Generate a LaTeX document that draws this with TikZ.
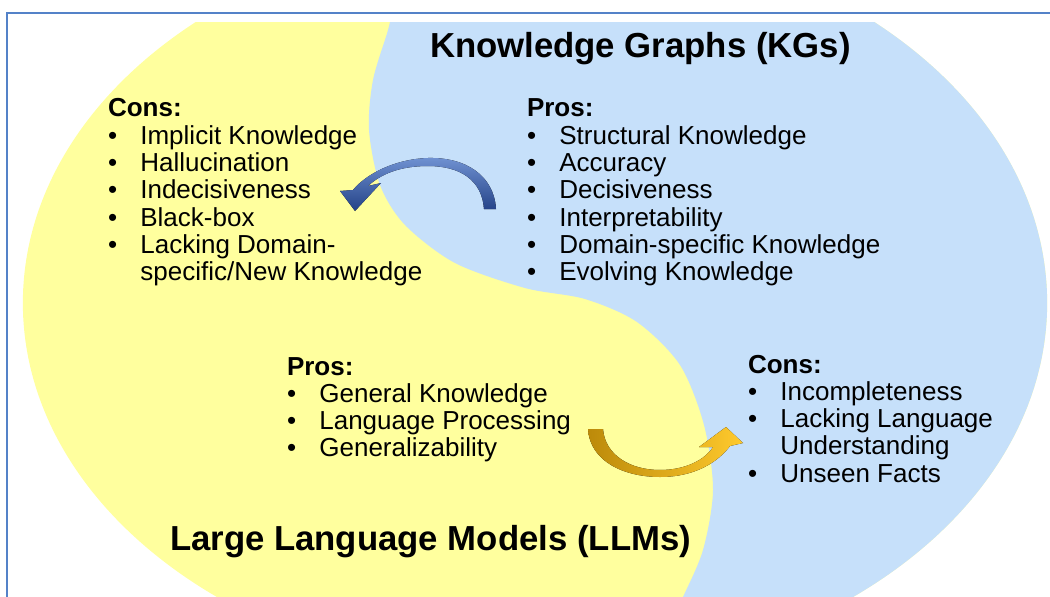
\documentclass[tikz,border=0pt]{standalone}
\usepackage{fontspec}
\setmainfont{Liberation Sans}

\definecolor{llmyellow}{RGB}{255,255,158}
\definecolor{kgblue}{RGB}{198,224,250}
\definecolor{framecol}{RGB}{84,130,200}
\definecolor{bluedark}{RGB}{36,66,135}
\definecolor{bluelight}{RGB}{112,146,210}
\definecolor{golddark}{RGB}{188,138,10}
\definecolor{goldlight}{RGB}{255,202,45}

\newcommand{\bul}{\makebox[23pt][l]{\textbullet}}

\begin{document}
\begin{tikzpicture}
  [x=0.025cm,y=-0.025cm,
   every node/.style={inner sep=0pt,outer sep=0pt,anchor=base west},
   bigtitle/.style={font=\fontsize{24.7}{28}\selectfont\bfseries},
   itemlist/.style={font=\fontsize{18.5}{19.4}\selectfont}]
  \useasboundingbox (0,0) rectangle (1050,597);
  \clip (0,0) rectangle (1050,597);

  % the two halves
  \begin{scope}
    \clip (0,23) rectangle (1050,620);
    \fill[llmyellow] (535,303) ellipse [x radius=12.8cm, y radius=9.375cm];
    \clip (535,303) ellipse [x radius=12.8cm, y radius=9.375cm];
    \fill[kgblue] plot[smooth] coordinates {(395,0) (388,30) (373,80) (369,130)
      (380,185) (405,225) (455,263) (525,288) (585,299) (637,322) (680,365)
      (704,425) (713,490) (703,550) (683,597) (672,620)}
      -- (1100,620) -- (1100,0) -- cycle;
  \end{scope}

  \draw[framecol, line width=1.4pt] (7,13) rectangle (1060,620);

  % titles
  \node[bigtitle] (kgTitle)  at (430,58)  {Knowledge Graphs (KGs)};
  \node[bigtitle] (llmTitle) at (170,550) {Large Language Models (LLMs)};

  % lists
  \node[itemlist] (llmCons) at (108,117) {\begin{tabular}[t]{@{}l@{}}
    \textbf{Cons:}\\
    \bul Implicit Knowledge\\
    \bul Hallucination\\
    \bul Indecisiveness\\
    \bul Black-box\\
    \bul Lacking Domain-\\
    \hphantom{\bul}specific/New Knowledge
  \end{tabular}};
  \node[itemlist] (kgPros) at (527,117) {\begin{tabular}[t]{@{}l@{}}
    \textbf{Pros:}\\
    \bul Structural Knowledge\\
    \bul Accuracy\\
    \bul Decisiveness\\
    \bul Interpretability\\
    \bul Domain-specific Knowledge\\
    \bul Evolving Knowledge
  \end{tabular}};
  \node[itemlist] (llmPros) at (287,375) {\begin{tabular}[t]{@{}l@{}}
    \textbf{Pros:}\\
    \bul General Knowledge\\
    \bul Language Processing\\
    \bul Generalizability
  \end{tabular}};
  \node[itemlist] (kgCons) at (748,373) {\begin{tabular}[t]{@{}l@{}}
    \textbf{Cons:}\\
    \bul Incompleteness\\
    \bul Lacking Language\\
    \hphantom{\bul}Understanding\\
    \bul Unseen Facts
  \end{tabular}};

  % curved block arrows
  \fill[top color=bluelight, bottom color=bluedark]
    (496,209) .. controls (494,175) and (465,157) .. (428,158)
    .. controls (395,159) and (366,174) .. (353,190)
    -- (340,191) -- (355,211) -- (381,183) -- (368,186)
    .. controls (381,174) and (400,166) .. (428,166)
    .. controls (460,166) and (482,180) .. (484,209) -- cycle;
  \fill[left color=golddark, right color=goldlight]
    (588,429) .. controls (590,462) and (625,477) .. (660,477)
    .. controls (695,477) and (718,462) .. (730,446)
    -- (743,443) -- (726,427) -- (699,447) -- (713,447)
    .. controls (705,460) and (685,470) .. (660,470)
    .. controls (630,470) and (605,455) .. (603,429) -- cycle;
\end{tikzpicture}
\end{document}
